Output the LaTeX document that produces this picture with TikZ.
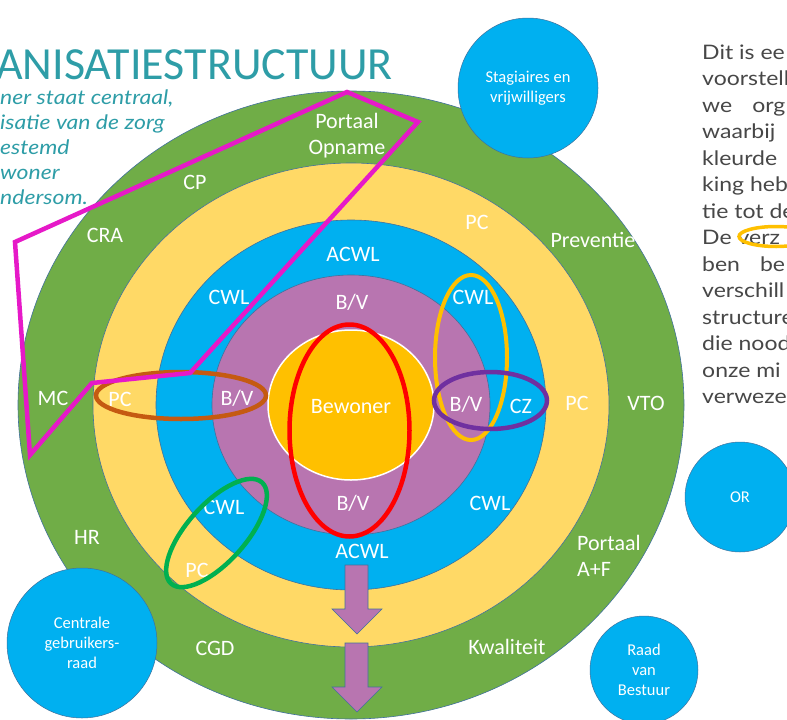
\documentclass[tikz,border=0pt]{standalone}
\usepackage{fontspec}
\setmainfont{Carlito}
\newfontfamily\parafont[FakeStretch=1.15]{Lato}
\definecolor{cgreen}{HTML}{70AD47}
\definecolor{cyellow}{HTML}{FFD966}
\definecolor{cblue}{HTML}{00B0F0}
\definecolor{cpurple}{HTML}{B875B0}
\definecolor{corange}{HTML}{FFC000}
\definecolor{cedge}{HTML}{41719C}
\definecolor{cbrown}{HTML}{C55A11}
\definecolor{cviolet}{HTML}{7030A0}
\definecolor{cgreenhoop}{HTML}{00B050}
\definecolor{cmagenta}{HTML}{E619C8}
\definecolor{cteal}{HTML}{2E9DA7}
\definecolor{cgray}{HTML}{474747}
\begin{document}
\begin{tikzpicture}[x=1pt,y=-1pt,
    ring/.style={draw=cedge,line width=0.6pt},
    ringlabel/.style={text=white,inner sep=0pt,font=\fontsize{22}{26}\selectfont},
    bubble/.style={circle,fill=cblue,draw=cedge,line width=0.5pt,text=white,align=center,
      font=\fontsize{16.5}{20}\selectfont},
    hoop/.style={line width=4.5pt},
    paraline/.style={anchor=base west,inner sep=0pt,text=cgray,font=\parafont\fontsize{20}{24}\selectfont},
    subline/.style={anchor=base west,inner sep=0pt,text=cteal,font=\parafont\itshape\fontsize{20}{24}\selectfont}]
  \clip (0,0) rectangle (787,720);
  \coordinate (C) at (351,405);
  % rings
  \draw[ring,fill=cgreen] (C) ellipse (333 and 314);
  \draw[ring,fill=cyellow] (C) ellipse (258 and 242);
  \draw[ring,fill=cblue] (C) ellipse (195 and 185);
  \draw[ring,fill=cpurple] (C) ellipse (139 and 130);
  \draw[white,line width=1.5pt,fill=corange] (C) ellipse (83 and 75);
  % title and text
  \node[anchor=base west,inner sep=0pt,text=cteal,font=\fontsize{46}{50}\selectfont] (title) at (-4,79) {ANISATIESTRUCTUUR};
  \foreach \txt [count=\i] in {{ner staat centraal,},{isatie van de zorg},estemd,woner,ndersom.}
    \node[subline] (sub\i) at (0,104+25*\i-25) {\txt};
  \foreach \txt [count=\i] in {Dit is ee,voorstell,we\quad org,waarbij,kleurde,king heb,tie tot de,
      De verz,ben\quad be,verschill,structure,die nood,onze mi,verweze}
    \node[paraline] (par\i) at (702,59+26.5*\i-26.5) {\txt};
  % bubbles
  \node[bubble,minimum size=140] (stag) at (528,88) {Stagiaires en\\vrijwilligers};
  \node[bubble,minimum size=110] (or) at (740,497) {OR};
  \node[bubble,minimum size=108] (rvb) at (644,670) {Raad\\van\\Bestuur};
  \node[bubble,minimum size=150] (cgr) at (82,643) {Centrale\\gebruikers-\\raad};
  % labels green ring
  \node[ringlabel,align=center] (popn) at (347,136) {Portaal\\Opname};
  \node[ringlabel] (cp) at (195,182) {CP};
  \node[ringlabel] (cra) at (105,235) {CRA};
  \node[ringlabel] (mc) at (53,398) {MC};
  \node[ringlabel] (hr) at (87,537) {HR};
  \node[ringlabel] (cgd) at (215,648) {CGD};
  \node[ringlabel] (kwal) at (507,647) {Kwaliteit};
  \node[ringlabel,align=left,anchor=west] (paf) at (577,556) {Portaal\\A+F};
  \node[ringlabel] (vto) at (646,403) {VTO};
  \node[ringlabel] (prev) at (593,240) {Preventie};
  % labels yellow ring
  \node[ringlabel] (pc1) at (477,222) {PC};
  \node[ringlabel] (pc2) at (577,403) {PC};
  \node[ringlabel] (pc3) at (120,399) {PC};
  \node[ringlabel] (pc4) at (197,570) {PC};
  % labels blue ring
  \node[ringlabel] (acwl1) at (353,254) {ACWL};
  \node[ringlabel] (cwl1) at (229,297) {CWL};
  \node[ringlabel] (cwl2) at (473,297) {CWL};
  \node[ringlabel] (cz) at (521,406) {CZ};
  \node[ringlabel] (cwl3) at (490,503) {CWL};
  \node[ringlabel] (cwl4) at (224,507) {CWL};
  \node[ringlabel] (acwl2) at (362,551) {ACWL};
  % labels purple ring
  \node[ringlabel] (bv1) at (352,302) {B/V};
  \node[ringlabel] (bv2) at (237,398) {B/V};
  \node[ringlabel] (bv3) at (466,404) {B/V};
  \node[ringlabel] (bv4) at (353,503) {B/V};
  \node[ringlabel] (bew) at (351,407) {Bewoner};
  % arrows
  \foreach \t/\h in {565/609,643/687}
    \draw[fill=cpurple,draw=cedge,line width=0.6pt] (345,\t) -- (368,\t) -- (368,\h) -- (382,\h)
      -- (357,\h+25) -- (332,\h) -- (345,\h) -- cycle;
  % hoops
  \draw[hoop,red] (349.5,430.5) ellipse (60 and 106);
  \draw[hoop,corange,line width=4pt] (471,357.5) ellipse (36 and 82.5);
  \draw[hoop,cviolet] (490.5,400.5) ellipse (56.5 and 28.5);
  \draw[hoop,cbrown] (181,395.5) ellipse (85 and 23.5);
  \draw[hoop,cgreenhoop,rotate around={48:(216.5,533)}] (216.5,533) ellipse (68 and 29);
  \draw[hoop,corange,line width=3.5pt] (776,236.5) ellipse (37 and 10);
  \draw[cmagenta,line width=4.5pt,line join=miter] (15,242) -- (30,455) -- (92,383) -- (190,373)
    -- (418,122) -- (347,92) -- cycle;
\end{tikzpicture}
\end{document}
